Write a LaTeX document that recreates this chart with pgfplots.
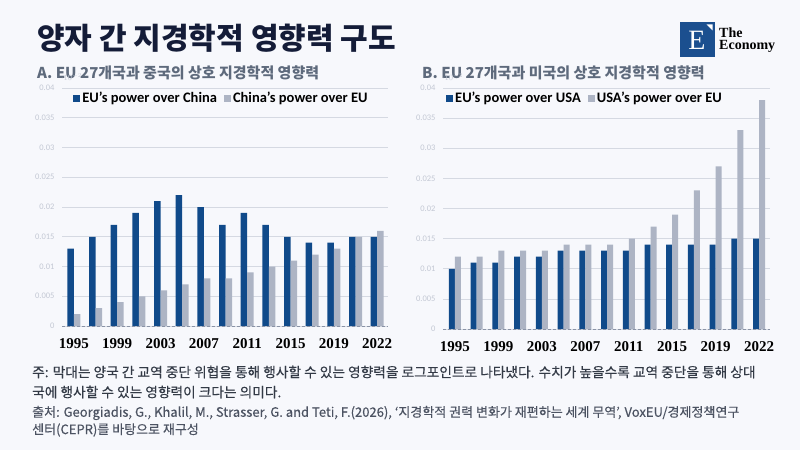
\documentclass[border=0pt]{standalone}
\usepackage{pgfplots}
\pgfplotsset{compat=1.18}
\usepackage{fontspec}
\setmainfont{Carlito}
\newfontfamily\kr{Noto Sans CJK KR}
\newfontfamily\krm{Noto Sans CJK KR}[FakeBold=0.35]
\newfontfamily\serif{Liberation Serif}
\definecolor{bg}{HTML}{F7F8FC}
\definecolor{eublue}{HTML}{104A8A}
\definecolor{othergray}{HTML}{ADB4C4}
\definecolor{gridc}{HTML}{D5D9E2}
\definecolor{ytc}{HTML}{C3C8D4}
\definecolor{titlec}{HTML}{141C38}
\definecolor{subc}{HTML}{5E6A7C}
\definecolor{notec}{HTML}{333A46}
\definecolor{srcc}{HTML}{4C5362}
\definecolor{logoblue}{HTML}{1B4F8F}
\definecolor{zeroc}{HTML}{8A93A6}

\pgfplotsset{
  chart/.style={
    scale only axis, ybar=0pt, ymin=0, ymax=0.04, xmin=-0.55, xmax=14.5,
    ytick={0,0.005,0.01,0.015,0.02,0.025,0.03,0.035,0.04},
    yticklabels={0,0.005,0.01,0.015,0.02,0.025,0.03,0.035,0.04},
    xtick={0,2,4,6,8,10,12,14},
    xticklabels={1995,1999,2003,2007,2011,2015,2019,2022},
    ymajorgrids, grid style={gridc, line width=0.7pt},
    axis line style={draw=none}, major tick length=0pt,
    yticklabel style={font=\fontsize{8.5}{9}\selectfont, text=ytc, xshift=-4pt},
    xticklabel style={font=\serif\bfseries\fontsize{15}{15}\selectfont, text=black, yshift=-9pt},
    legend style={draw=none, fill=none, font=\bfseries\fontsize{14.5}{14.5}\selectfont,
      legend columns=2, /tikz/every even column/.append style={column sep=5pt},
      anchor=north west},
    /pgf/number format/assume math mode=true,
    clip=false,
  }
}

\begin{document}
\begin{tikzpicture}[x=1pt,y=1pt]
\useasboundingbox (0,0) rectangle (800,450);
\fill[bg] (0,0) rectangle (800,450);

% title
\node[anchor=west, inner sep=0, text=titlec] at (37,412) {\kr\bfseries\fontsize{30}{30}\selectfont 양자 간 지경학적 영향력 구도};
% logo
\fill[logoblue] (680,393) rectangle (715,428);
\fill[white] (706.5,425.5) -- (712.5,425.5) -- (712.5,419.5) -- cycle;
\node[text=white, inner sep=0] at (697,410) {\serif\fontsize{28}{28}\selectfont E};
\node[anchor=west, inner sep=0] at (719,417) {\serif\bfseries\fontsize{14}{14}\selectfont The};
\node[anchor=west, inner sep=0] at (719,404) {\serif\bfseries\fontsize{14}{14}\selectfont Economy};

% subtitles
\node[anchor=west, inner sep=0, text=subc] at (37,377) {\kr\bfseries\fontsize{15}{15}\selectfont A. EU 27개국과 중국의 상호 지경학적 영향력};
\node[anchor=west, inner sep=0, text=subc] at (422,377) {\kr\bfseries\fontsize{15}{15}\selectfont B. EU 27개국과 미국의 상호 지경학적 영향력};

\begin{axis}[chart, at={(62pt,124pt)}, anchor=south west, width=326pt, height=238pt,
  bar width=6.5pt,
  legend style={at={(axis description cs:0.025,1.0)}}]
\addplot[fill=eublue, draw=none, legend image code/.code={\fill[eublue] (0pt,-3.5pt) rectangle (7pt,3.5pt);}] coordinates {
(0,0.013)(1,0.015)(2,0.017)(3,0.019)(4,0.021)(5,0.022)(6,0.020)(7,0.017)(8,0.019)(9,0.017)(10,0.015)(11,0.014)(12,0.014)(13,0.015)(14,0.015)};
\addlegendentry{EU's power over China}
\addplot[fill=othergray, draw=none, legend image code/.code={\fill[othergray] (0pt,-3.5pt) rectangle (7pt,3.5pt);}] coordinates {
(0,0.002)(1,0.003)(2,0.004)(3,0.005)(4,0.006)(5,0.007)(6,0.008)(7,0.008)(8,0.009)(9,0.010)(10,0.011)(11,0.012)(12,0.013)(13,0.015)(14,0.016)};
\addlegendentry{China's power over EU}
\draw[zeroc, line width=0.7pt, dash pattern=on 3pt off 2pt] (rel axis cs:0,0) -- (rel axis cs:1,0);
\end{axis}

\begin{axis}[chart, at={(443pt,121pt)}, anchor=south west, width=327pt, height=241pt,
  bar width=6pt,
  legend style={at={(axis description cs:0.0,1.0)}}]
\addplot[fill=eublue, draw=none, legend image code/.code={\fill[eublue] (0pt,-3.5pt) rectangle (7pt,3.5pt);}] coordinates {
(0,0.010)(1,0.011)(2,0.011)(3,0.012)(4,0.012)(5,0.013)(6,0.013)(7,0.013)(8,0.013)(9,0.014)(10,0.014)(11,0.014)(12,0.014)(13,0.015)(14,0.015)};
\addlegendentry{EU's power over USA}
\addplot[fill=othergray, draw=none, legend image code/.code={\fill[othergray] (0pt,-3.5pt) rectangle (7pt,3.5pt);}] coordinates {
(0,0.012)(1,0.012)(2,0.013)(3,0.013)(4,0.013)(5,0.014)(6,0.014)(7,0.014)(8,0.015)(9,0.017)(10,0.019)(11,0.023)(12,0.027)(13,0.033)(14,0.038)};
\addlegendentry{USA's power over EU}
\draw[zeroc, line width=0.7pt, dash pattern=on 3pt off 2pt] (rel axis cs:0,0) -- (rel axis cs:1,0);
\end{axis}

% notes
\node[anchor=west, inner sep=0, text=notec] at (32,78) {\krm\fontsize{13.7}{13.7}\selectfont 주: 막대는 양국 간 교역 중단 위협을 통해 행사할 수 있는 영향력을 로그포인트로 나타냈다. 수치가 높을수록 교역 중단을 통해 상대};
\node[anchor=west, inner sep=0, text=notec] at (32,58) {\krm\fontsize{13.7}{13.7}\selectfont 국에 행사할 수 있는 영향력이 크다는 의미다.};
\node[anchor=west, inner sep=0, text=srcc] at (32,37) {\krm\fontsize{13}{13}\selectfont 출처: Georgiadis, G., Khalil, M., Strasser, G. and Teti, F.(2026), ‘지경학적 권력 변화가 재편하는 세계 무역’, VoxEU/경제정책연구};
\node[anchor=west, inner sep=0, text=srcc] at (32,20) {\krm\fontsize{13}{13}\selectfont 센터(CEPR)를 바탕으로 재구성};
\end{tikzpicture}
\end{document}
